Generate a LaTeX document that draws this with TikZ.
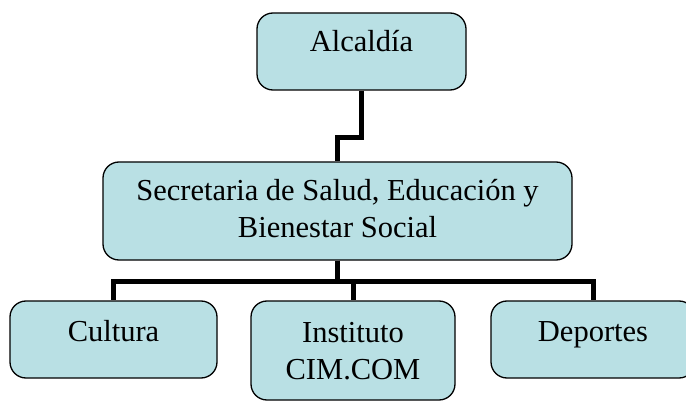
\documentclass[tikz,border=0pt]{standalone}
\usepackage{fontspec}
\setmainfont{Liberation Serif}
\definecolor{boxfill}{RGB}{185,224,228}
\begin{document}
\begin{tikzpicture}[x=1pt,y=-1pt,
  orgbox/.style={draw=black, line width=1.3pt, fill=boxfill, rounded corners=16pt,
    inner sep=0pt, align=center, font=\fontsize{30.5}{37}\selectfont},
  conn/.style={draw=black, line width=5pt, line join=miter}]
\useasboundingbox (0,0) rectangle (686,401);
\clip (0,0) rectangle (686,401);
\node[orgbox, minimum width=209pt] (alc) at (361.5,51.5)
  {\rule[-38pt]{0pt}{77pt}Alcaldía};
\node[orgbox, minimum width=469pt] (sec) at (337.5,211)
  {\rule{0pt}{38pt}Secretaria de Salud, Educación y\\\rule[-23pt]{0pt}{0pt}Bienestar Social};
\node[orgbox, minimum width=207pt] (cul) at (113.5,339.5)
  {\rule[-37pt]{0pt}{77pt}Cultura};
\node[orgbox, minimum width=204pt] (ins) at (353,350.5)
  {\rule{0pt}{41pt}Instituto\\\rule[-21pt]{0pt}{0pt}CIM.COM};
\node[orgbox, minimum width=204pt] (dep) at (593,339.5)
  {\rule[-37pt]{0pt}{77pt}Deportes};
\draw[conn] (alc.south) -- ++(0,47) -| (sec.north);
\draw[conn] (sec.south) -- ++(0,21) -| (cul.north);
\draw[conn] (sec.south) -- ++(0,21) -| (ins.north);
\draw[conn] (sec.south) -- ++(0,21) -| (dep.north);
\end{tikzpicture}
\end{document}
